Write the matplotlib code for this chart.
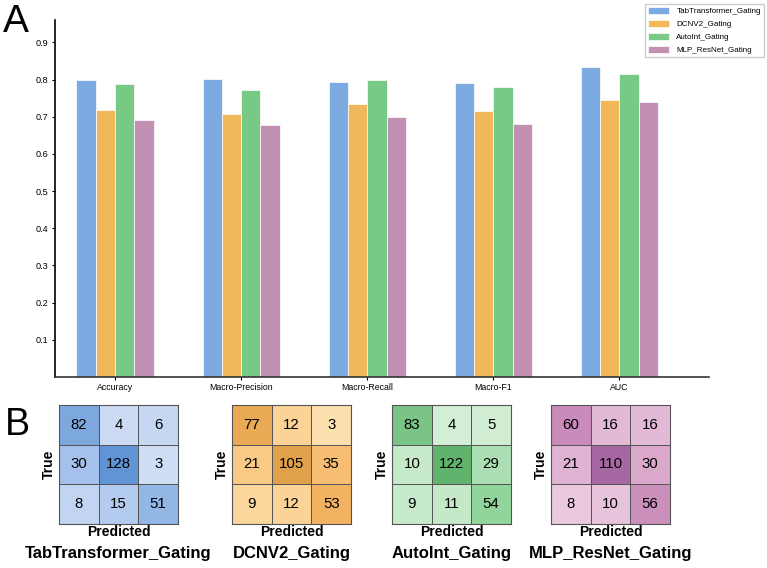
"""Gating model comparison: metric bars (A) and confusion matrices (B)."""

import numpy as np
import matplotlib.pyplot as plt
from matplotlib.colors import LinearSegmentedColormap, PowerNorm

plt.rcParams["font.family"] = ["Liberation Sans", "DejaVu Sans"]

METRICS = ["Accuracy", "Macro-Precision", "Macro-Recall", "Macro-F1", "AUC"]
MODELS  = ["TabTransformer_Gating", "DCNV2_Gating", "AutoInt_Gating", "MLP_ResNet_Gating"]

tabtransformer_scores = [0.798, 0.802, 0.792, 0.790, 0.833]
dcnv2_scores          = [0.718, 0.706, 0.735, 0.714, 0.745]
autoint_scores        = [0.789, 0.771, 0.798, 0.780, 0.815]
mlp_resnet_scores     = [0.692, 0.678, 0.699, 0.681, 0.739]

cm_tabtransformer = [[82, 4, 6], [30, 128, 3], [8, 15, 51]]
cm_dcnv2          = [[77, 12, 3], [21, 105, 35], [9, 12, 53]]
cm_autoint        = [[83, 4, 5], [10, 122, 29], [9, 11, 54]]
cm_mlp_resnet     = [[60, 16, 16], [21, 110, 30], [8, 10, 56]]

Y_TICKS = [0.1, 0.2, 0.3, 0.4, 0.5, 0.6, 0.7, 0.8, 0.9]

BAR_COLORS = ["#7eaae2", "#f0b85a", "#77c985", "#c290b2"]
CMAP_STOPS = [
    ["#e6edf9", "#b3cbee", "#8cb3e4", "#5e92d3"],
    ["#fdebc6", "#fbd396", "#f5b463", "#dfa048"],
    ["#e9f7ea", "#bfe6c4", "#8fd39a", "#5cb06a"],
    ["#f8e8f1", "#e6bfd9", "#cf93bf", "#a464a2"],
]

W, H = 767, 568


def plot_bars(fig):
    ax = fig.add_axes([55 / W, 1 - 377 / H, 654 / W, 357 / H])
    scores = [tabtransformer_scores, dcnv2_scores, autoint_scores, mlp_resnet_scores]
    x = np.arange(len(METRICS))
    width = 0.153
    for i, (name, vals) in enumerate(zip(MODELS, scores)):
        ax.bar(x + (i - 1.5) * width, vals, width, color=BAR_COLORS[i],
               edgecolor="white", linewidth=0.5, label=name)

    ax.set_xlim(-0.476, 4.71)
    ax.set_ylim(0, 0.96)
    ax.set_xticks(x)
    ax.set_xticklabels(METRICS, fontsize=6.3)
    ax.set_yticks(Y_TICKS)
    ax.set_yticklabels([f"{t:.1f}" for t in Y_TICKS], fontsize=6.6)
    ax.tick_params(length=2.5, width=0.8, pad=2)
    for side in ["top", "right"]:
        ax.spines[side].set_visible(False)
    ax.spines["left"].set_linewidth(1.2)
    ax.spines["bottom"].set_linewidth(1.2)
    ax.spines["bottom"].set_color("#333333")

    fig.legend(loc="upper right", bbox_to_anchor=(764 / W, 1 - 4 / H),
               fontsize=5.8, fancybox=False, edgecolor="#cccccc",
               handlelength=2.6, handleheight=0.9, borderpad=0.4,
               labelspacing=0.6, handletextpad=0.9, framealpha=1,
               borderaxespad=0)


def plot_matrices(fig):
    mats  = [cm_tabtransformer, cm_dcnv2, cm_autoint, cm_mlp_resnet]
    lefts = [59, 232, 392, 551]
    for i, (name, mat) in enumerate(zip(MODELS, mats)):
        mat = np.array(mat)
        ax = fig.add_axes([lefts[i] / W, 1 - 524 / H, 119 / W, 119 / H])
        cmap = LinearSegmentedColormap.from_list(f"cm{i}", CMAP_STOPS[i])
        ax.pcolormesh(mat, cmap=cmap, norm=PowerNorm(0.5, vmin=0, vmax=mat.max() * 1.05),
                      edgecolors="#555555", linewidth=0.6)
        ax.set_xlim(0, 3)
        ax.set_ylim(3, 0)
        for r in range(3):
            for c in range(3):
                ax.text(c + 0.5, r + 0.5, str(mat[r, c]), ha="center",
                        va="center", fontsize=10.8, color="black")
        ax.set_xticks([])
        ax.set_yticks([])
        for sp in ax.spines.values():
            sp.set_color("#555555")
            sp.set_linewidth(0.8)
        ax.set_xlabel("Predicted", fontsize=10, fontweight="bold", labelpad=1)
        ax.set_ylabel("True", fontsize=10, fontweight="bold", labelpad=2)
        ax.text(0.5, -0.245, name, transform=ax.transAxes, ha="center",
                va="center", fontsize=12, fontweight="bold")


def main():
    fig = plt.figure(figsize=(W / 100, H / 100), dpi=100)
    plot_bars(fig)
    plot_matrices(fig)
    fig.text(3 / W, 1 - 22 / H, "A", fontsize=28, va="center", ha="left")
    fig.text(5 / W, 1 - 425 / H, "B", fontsize=27, va="center", ha="left")
    fig.savefig("out.png", dpi=100)
    plt.close(fig)


if __name__ == "__main__":
    main()
